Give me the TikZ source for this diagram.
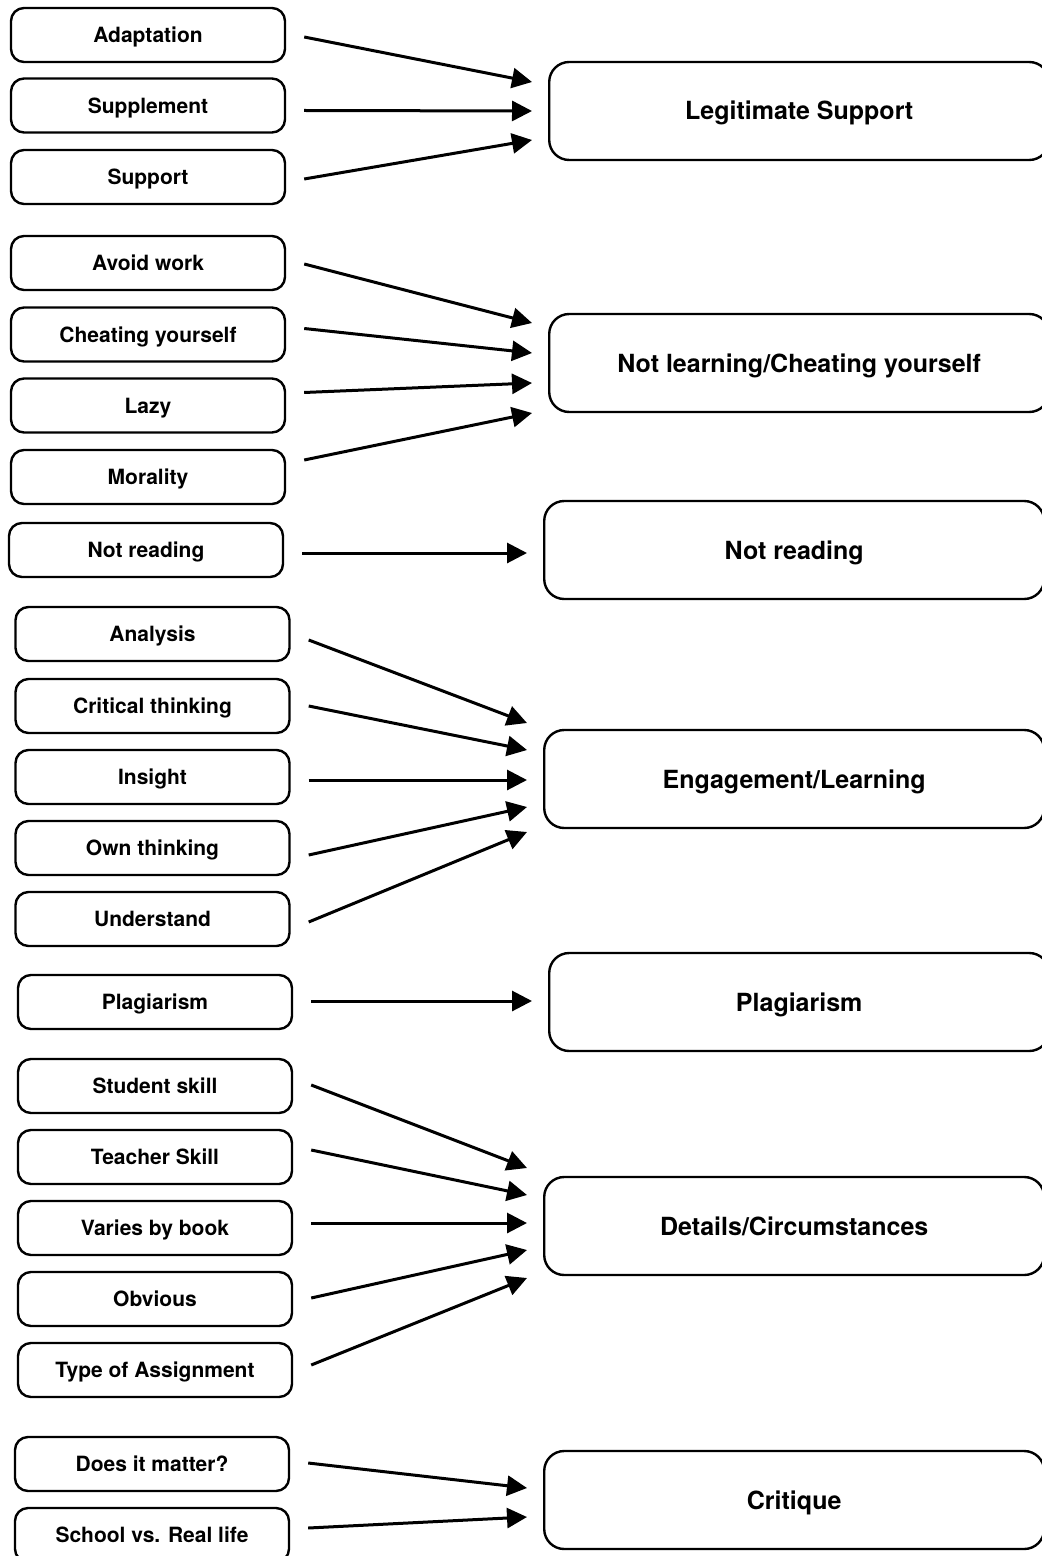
\documentclass[tikz,border=0pt]{standalone}
\usepackage{fontspec}
\setmainfont{TeX Gyre Heros}
\usetikzlibrary{arrows.meta,calc}
\begin{document}
\begin{tikzpicture}[
  x=0.5pt, y=-0.5pt,
  code/.style={draw, line width=1.2pt, rounded corners=6.5pt, minimum width=137pt,
    minimum height=27pt, inner sep=0pt, text height=7.6pt, text depth=0pt,
    font=\fontsize{10.5}{12}\selectfont\bfseries},
  theme/.style={draw, line width=1.2pt, rounded corners=10pt, minimum width=250pt,
    minimum height=49pt, inner sep=0pt, text height=9pt, text depth=0pt, anchor=west,
    font=\fontsize{12.5}{15}\selectfont\bfseries},
  link/.style={line width=1.5pt, -{Triangle[length=10pt,width=10pt]}}
]
\useasboundingbox (0,0) rectangle (1042,1556);
% themes
\node[theme] (legit)   at (548,111)  {Legitimate Support};
\node[theme] (notlearn) at (548,363) {Not learning/Cheating yourself};
\node[theme] (notread) at (543,550)  {Not reading};
\node[theme] (engage)  at (543,779)  {Engagement/Learning};
\node[theme] (plag)    at (548,1002) {Plagiarism};
\node[theme] (details) at (543,1226) {Details/Circumstances};
\node[theme] (critique) at (543,1500) {Critique};
% codes
\node[code] (adapt)   at (148,35)    {Adaptation};
\node[code] (suppl)   at (148,105.5) {Supplement};
\node[code] (support) at (148,177)   {Support};
\node[code] (avoid)   at (148,263)   {Avoid work};
\node[code] (cheat)   at (148,334.5) {Cheating yourself};
\node[code] (lazy)    at (148,405.5) {Lazy};
\node[code] (moral)   at (148,477)   {Morality};
\node[code] (cread)   at (146,550)   {Not reading};
\node[code] (analysis) at (152.5,634) {Analysis};
\node[code] (critical) at (152.5,706) {Critical thinking};
\node[code] (insight) at (152.5,777) {Insight};
\node[code] (own)     at (152.5,848) {Own thinking};
\node[code] (under)   at (152.5,919) {Understand};
\node[code] (cplag)   at (155,1002)  {Plagiarism};
\node[code] (student) at (155,1086)  {Student skill};
\node[code] (teacher) at (155,1157)  {Teacher Skill};
\node[code] (varies)  at (155,1228)  {Varies by book};
\node[code] (obvious) at (155,1299)  {Obvious};
\node[code] (type)    at (155,1370)  {Type of Assignment};
\node[code] (matter)  at (152,1464)  {Does it matter?};
\node[code] (school)  at (152,1535)  {School vs. Real life};
% links
\foreach \src/\sy/\dst/\ty in {adapt/2/legit/-29, suppl/5/legit/0, support/2/legit/29,
    avoid/1/notlearn/-40, cheat/-6/notlearn/-10, lazy/-13/notlearn/20, moral/-17/notlearn/50,
    cread/3/notread/3,
    analysis/6/engage/-56, critical/0/engage/-29, insight/3/engage/1, own/7/engage/28, under/3/engage/53,
    cplag/-1/plag/-1,
    student/-1/details/-58, teacher/-7/details/-31, varies/-5/details/-3, obvious/-1/details/24, type/-5/details/52,
    matter/-1/critique/-12, school/-7/critique/17}
  \draw[link] ($(\src.east)+(18,\sy)$) -- ($(\dst.west)+(-16,\ty)$);
\end{tikzpicture}
\end{document}
